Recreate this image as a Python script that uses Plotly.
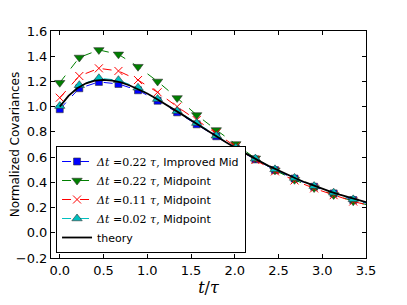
import plotly.graph_objects as go

# sample times (dt = 0.2236 tau), last point lies beyond the axis edge
t_pts = [0.0, 0.2236, 0.4472, 0.6708, 0.8944, 1.118, 1.3416, 1.5652, 1.7888,
         2.0124, 2.236, 2.4596, 2.6832, 2.9068, 3.1304, 3.354, 3.5776]

improved_022 = [0.98, 1.146, 1.196, 1.18, 1.13, 1.047, 0.955, 0.86, 0.765,
                0.668, 0.582, 0.497, 0.43, 0.365, 0.312, 0.26, 0.222]
midpoint_022 = [1.19, 1.39, 1.45, 1.415, 1.317, 1.20, 1.069, 0.934, 0.815,
                0.704, 0.59, 0.495, 0.42, 0.355, 0.30, 0.25, 0.21]
midpoint_011 = [1.071, 1.243, 1.304, 1.283, 1.211, 1.114, 1.0, 0.894, 0.79,
                0.685, 0.577, 0.487, 0.415, 0.352, 0.298, 0.248, 0.21]
midpoint_002 = [1.005, 1.17, 1.225, 1.21, 1.15, 1.06, 0.965, 0.87, 0.77,
                0.675, 0.588, 0.503, 0.435, 0.37, 0.318, 0.265, 0.225]

t_theory = [i / 10 for i in range(36)]
theory = [1.000, 1.086, 1.146, 1.185, 1.207, 1.213, 1.207, 1.192, 1.168, 1.138,
          1.104, 1.065, 1.024, 0.981, 0.937, 0.893, 0.848, 0.804, 0.760, 0.718,
          0.677, 0.637, 0.598, 0.562, 0.526, 0.493, 0.461, 0.430, 0.401, 0.374,
          0.349, 0.324, 0.302, 0.280, 0.260, 0.242]

x_ticks = [0.0, 0.5, 1.0, 1.5, 2.0, 2.5, 3.0, 3.5]
y_ticks = [-0.2, 0.0, 0.2, 0.4, 0.6, 0.8, 1.0, 1.2, 1.4, 1.6]

SERIF = "DejaVu Serif"
def lbl(dt, method):
    return (f'<span style="font-family:{SERIF}"><i>Δt</i> ={dt} <i>τ</i>,</span> {method}')

fig = go.Figure()
series = [
    (improved_022, lbl("0.22", "Improved Mid"), "#0000ff", "square", 7, None),
    (midpoint_022, lbl("0.22", "Midpoint"), "#007f00", "triangle-down", 9, None),
    (midpoint_011, lbl("0.11", "Midpoint"), "#ff0000", "x-thin-open", 8, "x"),
    (midpoint_002, lbl("0.02", "Midpoint"), "#00bfbf", "triangle-up", 9, None),
]
for ys, name, col, sym, sz, kind in series:
    if kind == "x":
        marker = dict(symbol=sym, size=sz, color=col, line=dict(color=col, width=1))
    else:
        marker = dict(symbol=sym, size=sz, color=col, line=dict(color="#333333", width=0.6))
    fig.add_trace(go.Scatter(x=t_pts, y=ys, mode="lines+markers", name=name,
                             line=dict(color=col, width=1, dash="dash"),
                             marker=marker))
fig.add_trace(go.Scatter(x=t_theory, y=theory, mode="lines", name="theory",
                         line=dict(color="black", width=1.8)))

axis_common = dict(showgrid=False, zeroline=False, showline=True, linecolor="black",
                   linewidth=1, mirror="allticks", ticks="inside", ticklen=4,
                   tickcolor="black", automargin=False,
                   tickfont=dict(family="DejaVu Sans", size=13, color="black"))
fig.update_xaxes(range=[-0.1, 3.5], tickvals=x_ticks, ticktext=[f"{v:.1f}" for v in x_ticks],
                 title=dict(text="<i>t</i>/<i>τ</i>", font=dict(family=SERIF, size=16, color="black"),
                            standoff=2),
                 **axis_common)
fig.update_yaxes(range=[-0.2, 1.6], tickvals=y_ticks,
                 ticktext=[f"{v:.1f}".replace("-", "−") for v in y_ticks],
                 title=dict(text="Normalized Covariances",
                            font=dict(family="DejaVu Sans", size=12, color="black"), standoff=2),
                 **axis_common)
# the page body adds an 8px offset, so margins are shifted to compensate
fig.update_layout(
    width=407, height=305,
    margin=dict(l=43, r=49, t=23, b=55),
    paper_bgcolor="white", plot_bgcolor="white",
    showlegend=True,
    legend=dict(x=0.016, y=0.022, xanchor="left", yanchor="bottom",
                bgcolor="white", bordercolor="black", borderwidth=1,
                font=dict(family="DejaVu Sans", size=11, color="black"),
                tracegroupgap=0, itemwidth=30),
)
fig.write_html("out.html")
